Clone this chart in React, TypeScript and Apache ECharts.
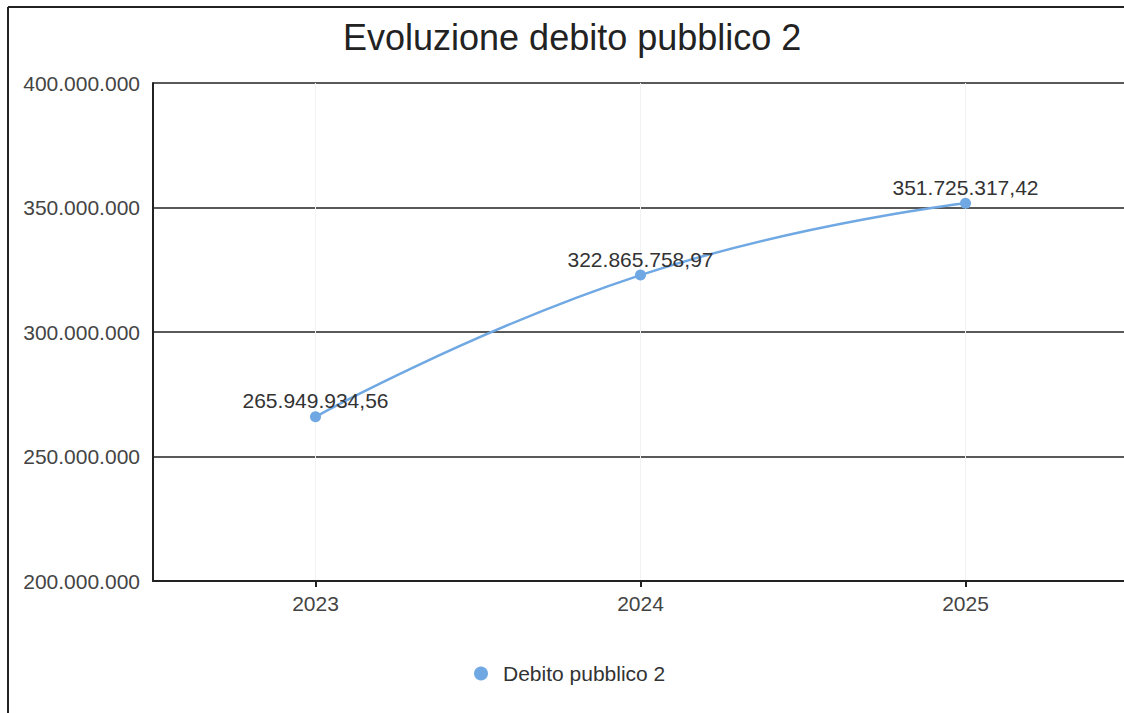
import React, { useEffect, useRef } from "react";
import * as echarts from "echarts";

const titleText = "Evoluzione debito pubblico 2";
const seriesName = "Debito pubblico 2";
const years = ["2023", "2024", "2025"];
const debt = [265949934.56, 322865758.97, 351725317.42];
const yMin = 200000000;
const yMax = 400000000;
const yStep = 50000000;

function groupThousands(intPart: string): string {
  return intPart.replace(/\B(?=(\d{3})+(?!\d))/g, ".");
}
function fmtInt(v: number): string {
  return groupThousands(Math.round(v).toString());
}
function fmtDec(v: number): string {
  const [i, d] = v.toFixed(2).split(".");
  return groupThousands(i) + "," + d;
}

export default function App() {
  const ref = useRef<HTMLDivElement>(null);
  useEffect(() => {
    if (!ref.current) return;
    const chart = echarts.init(ref.current, undefined, { renderer: "svg" });
    const labelFont = "'Liberation Sans', Arial, sans-serif";
    chart.setOption({
      animation: false,
      backgroundColor: "#ffffff",
      title: {
        text: titleText,
        left: 338,
        top: 14,
        textStyle: {
          fontFamily: "'Liberation Sans', Arial, sans-serif",
          fontSize: 36,
          fontWeight: "normal",
          color: "#222222",
        },
      },
      graphic: [
        {
          type: "line",
          shape: { x1: 8, y1: 7, x2: 1130, y2: 7 },
          style: { stroke: "#222222", lineWidth: 2 },
          z: 100,
        },
        {
          type: "line",
          shape: { x1: 8, y1: 7, x2: 8, y2: 720 },
          style: { stroke: "#222222", lineWidth: 2 },
          z: 100,
        },
      ],
      legend: {
        data: [seriesName],
        left: 469,
        top: 658,
        icon: "circle",
        itemWidth: 34,
        itemHeight: 14,
        itemGap: 10,
        textStyle: { fontFamily: labelFont, fontSize: 21, color: "#333333" },
      },
      grid: { left: 153, top: 83, width: 975, height: 498, containLabel: false },
      xAxis: {
        type: "category",
        data: years,
        boundaryGap: true,
        axisLine: { show: true, lineStyle: { color: "#222222", width: 2 } },
        axisTick: { show: true, alignWithLabel: true, length: 6, lineStyle: { color: "#222222", width: 2 } },
        axisLabel: { fontFamily: labelFont, fontSize: 21, color: "#444444", margin: 12 },
        splitLine: { show: true, alignWithLabel: true, lineStyle: { color: "#f2f2f2", width: 1 } },
      },
      yAxis: {
        type: "value",
        min: yMin,
        max: yMax,
        interval: yStep,
        axisLine: { show: true, lineStyle: { color: "#222222", width: 2 } },
        axisTick: { show: false },
        axisLabel: {
          fontFamily: labelFont,
          fontSize: 21,
          color: "#444444",
          margin: 13,
          formatter: (v: number) => fmtInt(v),
        },
        splitLine: { show: true, lineStyle: { color: "#222222", width: 1.5 } },
      },
      series: [
        {
          name: seriesName,
          type: "line",
          data: debt,
          smooth: true,
          symbol: "circle",
          symbolSize: 11,
          itemStyle: { color: "#6fa8e2" },
          lineStyle: { color: "#6fa8e2", width: 2.5 },
          label: {
            show: true,
            position: "top",
            distance: 0,
            fontFamily: labelFont,
            fontSize: 21,
            color: "#333333",
            formatter: (p: any) => fmtDec(p.value),
          },
        },
      ],
    });
    return () => chart.dispose();
  }, []);
  return (
    <div
      ref={ref}
      style={{ position: "fixed", left: 0, top: 0, width: 1130, height: 713, background: "#fff" }}
    />
  );
}
